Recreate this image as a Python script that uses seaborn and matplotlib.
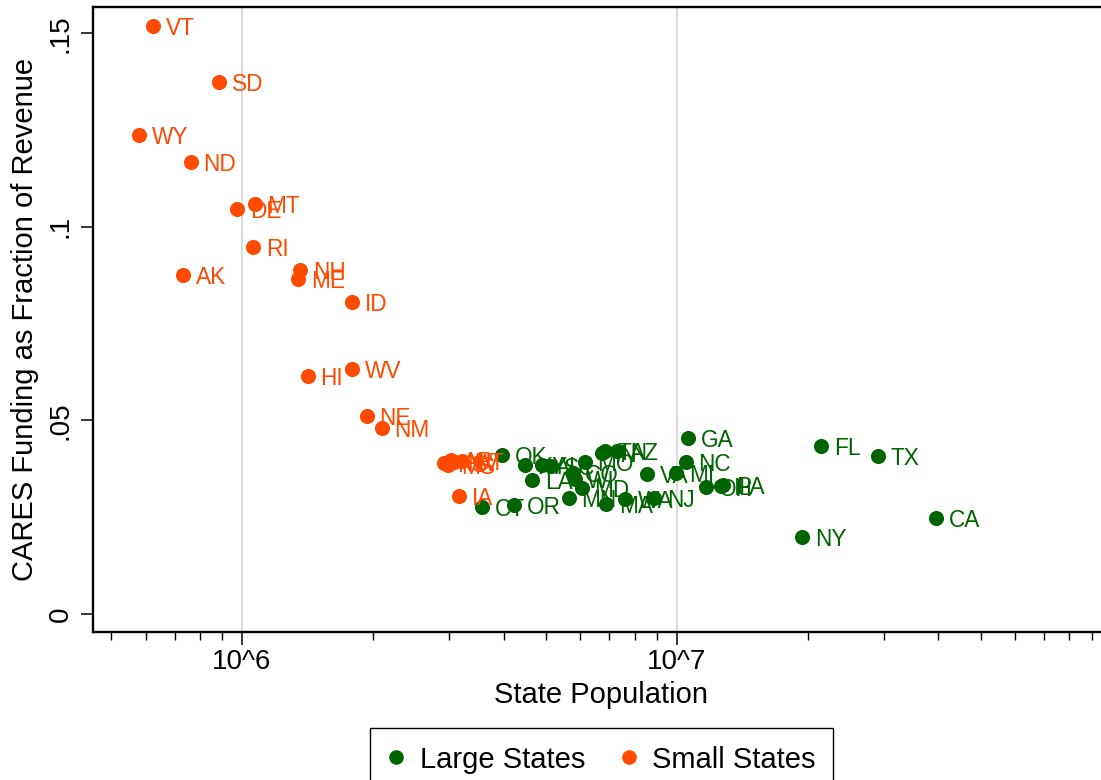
import numpy as np
import pandas as pd
import matplotlib
matplotlib.use("Agg")
import matplotlib.pyplot as plt
import matplotlib.ticker as mticker
from matplotlib.lines import Line2D
import seaborn as sns

# ---------------- data ----------------
small_states = ["VT", "SD", "WY", "ND", "DE", "MT", "RI", "AK", "NH", "ME", "ID",
                "HI", "WV", "NE", "NM", "KS", "MS", "AR", "NV", "UT", "IA"]
small_pop = [623989, 884659, 578759, 762062, 973764, 1068778, 1059361, 731545,
             1359711, 1344212, 1787065, 1415872, 1792147, 1934408, 2096829,
             2913314, 2976149, 3017804, 3080156, 3205958, 3155070]
small_frac = [0.1520, 0.1375, 0.1237, 0.1168, 0.1045, 0.1059, 0.0949, 0.0876,
              0.0888, 0.0866, 0.0805, 0.0615, 0.0632, 0.0511, 0.0480,
              0.0390, 0.0385, 0.0398, 0.0393, 0.0395, 0.0305]

large_states = ["CT", "OK", "OR", "KY", "LA", "AL", "SC", "MN", "CO", "WI", "MD",
                "MO", "IN", "TN", "MA", "AZ", "WA", "VA", "NJ", "MI", "NC", "GA",
                "OH", "IL", "PA", "NY", "FL", "TX", "CA"]
large_pop = [3565287, 3956971, 4217737, 4467673, 4648794, 4903185, 5148714,
             5639632, 5758736, 5822434, 6045680, 6137428, 6732219, 6829174,
             6892503, 7278717, 7614893, 8535519, 8882190, 9986857, 10488084,
             10617423, 11689100, 12671821, 12801989, 19453561, 21477737,
             28995881, 39512223]
large_frac = [0.0277, 0.0411, 0.0282, 0.0385, 0.0346, 0.0385, 0.0382, 0.0300,
              0.0363, 0.0350, 0.0325, 0.0393, 0.0415, 0.0420, 0.0285, 0.0422,
              0.0298, 0.0362, 0.0300, 0.0363, 0.0393, 0.0454, 0.0328, 0.0331,
              0.0333, 0.0200, 0.0434, 0.0408, 0.0249]

group_names = ["Large States", "Small States"]
x_tick_values = [1e6, 1e7]
x_tick_labels = ["10^6", "10^7"]
y_tick_values = [0, 0.05, 0.1, 0.15]
y_tick_labels = ["0", ".05", ".1", ".15"]

df = pd.DataFrame({
    "state": large_states + small_states,
    "pop": large_pop + small_pop,
    "frac": large_frac + small_frac,
    "group": [group_names[0]] * len(large_states) + [group_names[1]] * len(small_states),
})

GREEN = "#006400"
ORANGE = "#FF4A00"
palette = {group_names[0]: GREEN, group_names[1]: ORANGE}

# ---------------- style ----------------
sns.set_theme(style="white")
plt.rcParams["font.family"] = ["Liberation Sans", "DejaVu Sans"]
plt.rcParams["text.color"] = "black"
plt.rcParams["axes.labelcolor"] = "black"
plt.rcParams["xtick.color"] = "black"
plt.rcParams["ytick.color"] = "black"
plt.rcParams["xtick.labelcolor"] = "black"
plt.rcParams["ytick.labelcolor"] = "black"

fig = plt.figure(figsize=(11.01, 7.80), dpi=100)
ax = fig.add_axes([0.0842, 0.1897, 0.9253, 0.8009])

for g in group_names:
    sub = df[df["group"] == g]
    sns.scatterplot(data=sub, x="pop", y="frac", color=palette[g], s=118,
                    linewidth=0, ax=ax, legend=False, zorder=3)
    for _, r in sub.iterrows():
        ax.annotate(r["state"], (r["pop"], r["frac"]), xytext=(9.2, 0),
                    textcoords="offset points", va="center_baseline", ha="left",
                    fontsize=16.3, color=palette[g], zorder=4)

ax.set_xscale("log")
ax.set_xlim(453500, 1e8)
ax.set_ylim(-0.00465, 0.1567)

ax.xaxis.set_major_locator(mticker.FixedLocator(x_tick_values))
ax.xaxis.set_major_formatter(mticker.FixedFormatter(x_tick_labels))
ax.xaxis.set_minor_locator(mticker.LogLocator(base=10, subs=np.arange(2, 10), numticks=20))
ax.xaxis.set_minor_formatter(mticker.NullFormatter())
ax.yaxis.set_major_locator(mticker.FixedLocator(y_tick_values))
ax.yaxis.set_major_formatter(mticker.FixedFormatter(y_tick_labels))

ax.grid(False)
for xv in x_tick_values:
    ax.axvline(xv, color="#dcdcdc", lw=1.6, zorder=1)

for side in ["left", "bottom", "top", "right"]:
    ax.spines[side].set_visible(True)
    ax.spines[side].set_color("black")
    ax.spines[side].set_linewidth(1.7)

ax.tick_params(axis="x", which="major", direction="out", length=9, width=1.1,
               color="black", labelsize=20, pad=3.5, bottom=True, labelcolor="black")
ax.tick_params(axis="x", which="minor", direction="out", length=6, width=1.0,
               color="black", bottom=True)
ax.tick_params(axis="y", which="major", direction="out", length=8.5, width=1.1,
               color="black", labelsize=20, pad=5, left=True, labelrotation=90,
               labelcolor="black")
for lab in ax.get_yticklabels():
    lab.set_va("center")

ax.set_xlabel("")
ax.set_ylabel("")
fig.text(601 / 1101, 1 - 703 / 780, "State Population", ha="center", va="baseline",
         fontsize=21, color="black")
fig.text(25 / 1101, 1 - 319 / 780, "CARES Funding as Fraction of Revenue",
         rotation=90, ha="center", va="center", fontsize=21, color="black")

handles = [Line2D([0], [0], marker="o", linestyle="", markersize=10.5,
                  markerfacecolor=palette[g], markeredgewidth=0) for g in group_names]
leg = fig.legend(handles, group_names, loc="upper center",
                 bbox_to_anchor=(601.5 / 1101, 1 - 728 / 780), ncol=2, fontsize=21,
                 frameon=True, fancybox=False, edgecolor="black", framealpha=1,
                 borderpad=0.6, handlelength=0.6, handletextpad=0.5,
                 columnspacing=1.2, borderaxespad=0)
leg.get_frame().set_linewidth(1.0)
for t in leg.get_texts():
    t.set_color("black")

fig.savefig("out.png", dpi=100)
